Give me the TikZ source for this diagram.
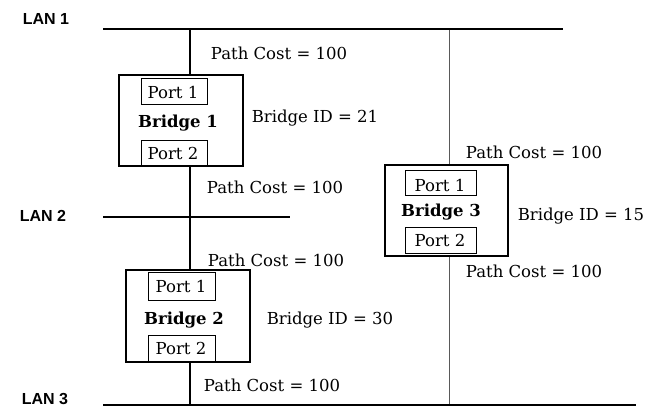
\documentclass[tikz,border=0pt]{standalone}
\usepackage{fontspec}
\setmainfont{DejaVu Serif}
\newfontfamily\lanfont{Liberation Sans}
\begin{document}
\begin{tikzpicture}[x=1pt,y=-1pt,
  lan/.style={font=\lanfont\bfseries\fontsize{16}{16}\selectfont},
  lbl/.style={font=\fontsize{16.5}{16.5}\selectfont},
  bl/.style={font=\bfseries\fontsize{16.5}{16.5}\selectfont},
  bus/.style={line width=2.4pt},
  box/.style={draw,line width=1.2pt},
  port/.style={draw,line width=0.7pt}]
\useasboundingbox (0,0) rectangle (651,409);
% LANs
\node[lan] (l1) at (46,19) {LAN 1};
\node[lan] (l2) at (43,216) {LAN 2};
\node[lan] (l3) at (45,399) {LAN 3};
\coordinate (a1) at (103,29); \coordinate (b1) at (563,29);
\coordinate (a2) at (103,217); \coordinate (b2) at (290,217);
\coordinate (a3) at (103,405); \coordinate (b3) at (636,405);
\coordinate (v1) at (190,29); \coordinate (v2) at (190,405);
\coordinate (w1) at (449,29); \coordinate (w2) at (449,405);
\draw[line width=1.4pt] (v1) -- (v2);
\draw[line width=0.9pt,gray!70!black] (w1) -- (w2);
\draw[bus] (a1) -- (b1);
\draw[bus] (a2) -- (b2);
\draw[bus] (a3) -- (b3);
% Bridge 1
\draw[box,fill=white] (119,75) rectangle (243,166);
\draw[port] (141,78) rectangle (207,104);
\draw[port] (141,140) rectangle (207,165);
\node[lbl] (p11) at (173,92) {Port 1};
\node[lbl] (p12) at (173,153) {Port 2};
\node[bl] (br1) at (178,123) {Bridge 1};
\node[lbl] (id1) at (315,118) {Bridge ID = 21};
% Bridge 2
\draw[box,fill=white] (126,270) rectangle (250,362);
\draw[port] (148,272) rectangle (215,300);
\draw[port] (148,335) rectangle (215,361);
\node[lbl] (p21) at (181,286) {Port 1};
\node[lbl] (p22) at (181,348) {Port 2};
\node[bl] (br2) at (184,320) {Bridge 2};
\node[lbl] (id2) at (330,320) {Bridge ID = 30};
% Bridge 3
\draw[box,fill=white] (385,165) rectangle (508,256);
\draw[port] (405,170) rectangle (476,195);
\draw[port] (405,227) rectangle (476,253);
\node[lbl] (p31) at (440,185) {Port 1};
\node[lbl] (p32) at (440,240) {Port 2};
\node[bl] (br3) at (441,212) {Bridge 3};
\node[lbl] (id3) at (581,216) {Bridge ID = 15};
% path costs
\node[lbl] (c1) at (279,53) {Path Cost = 100};
\node[lbl] (c2) at (275,187) {Path Cost = 100};
\node[lbl] (c3) at (276,260) {Path Cost = 100};
\node[lbl] (c4) at (272,385) {Path Cost = 100};
\node[lbl] (c5) at (534,152) {Path Cost = 100};
\node[lbl] (c6) at (534,271) {Path Cost = 100};
\end{tikzpicture}
\end{document}
